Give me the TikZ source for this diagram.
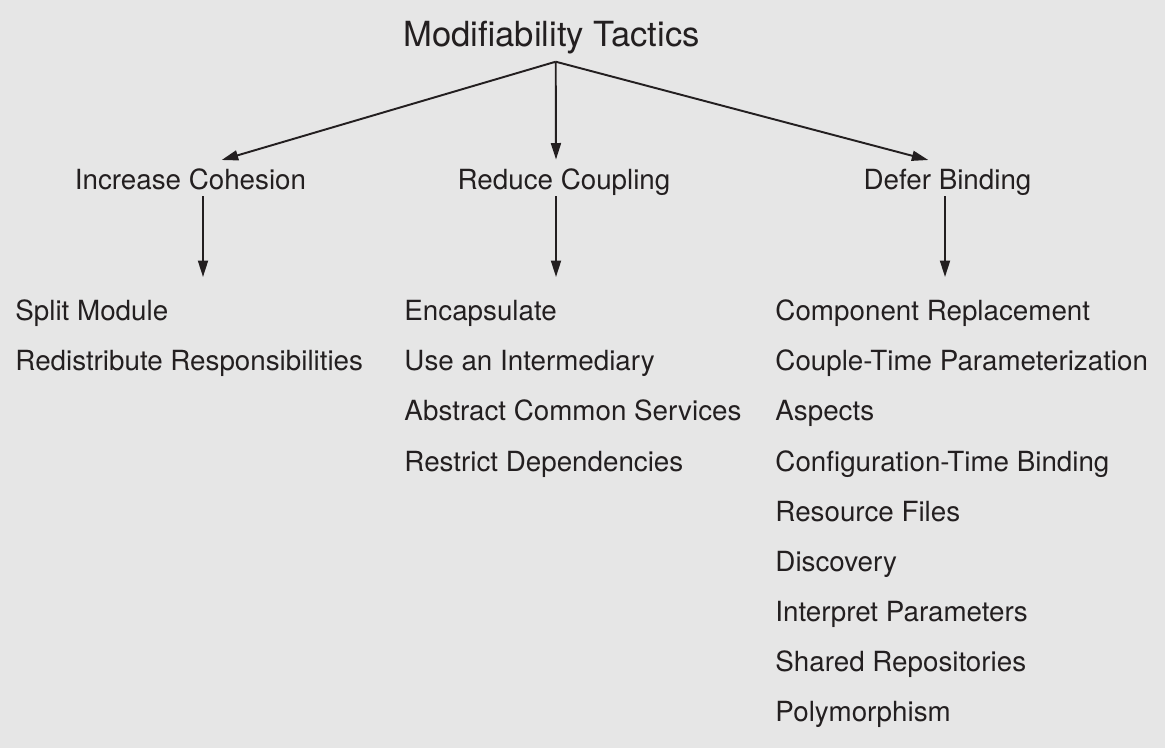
\documentclass[tikz,border=0pt]{standalone}
\usepackage{fontspec}
\setmainfont{TeX Gyre Heros}
\usetikzlibrary{arrows.meta}
\definecolor{bggray}{RGB}{230,230,230}
\definecolor{inkgray}{RGB}{35,31,32}
\tikzset{
  head/.style={anchor=base, inner sep=0pt, font=\fontsize{19.7}{23}\selectfont},
  branch/.style={anchor=base, inner sep=0pt, font=\fontsize{15.8}{18}\selectfont},
  tactic/.style={anchor=base west, inner sep=0pt, font=\fontsize{15.8}{18}\selectfont}
}

\begin{document}
\begin{tikzpicture}[x=0.02cm, y=-0.02cm, color=inkgray, line width=1.1pt,
  >={Triangle[length=0.33cm,width=0.2cm]}]
\fill[bggray] (0,0) rectangle (1165,748);
\useasboundingbox (0,0) rectangle (1165,748);

\node[head] (title) at (551.5,46) {Modifiability Tactics};
\node[branch] (cohesion) at (190.5,189.5) {Increase Cohesion};
\node[branch] (coupling) at (564,189.5) {Reduce Coupling};
\node[branch] (binding) at (947.5,189.5) {Defer Binding};

% increase cohesion
\node[tactic] (split) at (14.5,320.5) {Split Module};
\node[tactic] (redistribute) at (14.5,370.7) {Redistribute Responsibilities};

% reduce coupling
\node[tactic] (encapsulate) at (403.5,320.5) {Encapsulate};
\node[tactic] (intermediary) at (403.5,370.7) {Use an Intermediary};
\node[tactic] (abstract) at (403.5,420.8) {Abstract Common Services};
\node[tactic] (restrict) at (403.5,471) {Restrict Dependencies};

% defer binding
\node[tactic] (replacement) at (774.5,320.5) {Component Replacement};
\node[tactic] (parameterization) at (774.5,370.7) {Couple-Time Parameterization};
\node[tactic] (aspects) at (774.5,420.8) {Aspects};
\node[tactic] (configuration) at (774.5,471) {Configuration-Time Binding};
\node[tactic] (resource) at (774.5,521.1) {Resource Files};
\node[tactic] (discovery) at (774.5,571.3) {Discovery};
\node[tactic] (interpret) at (774.5,621.4) {Interpret Parameters};
\node[tactic] (repositories) at (774.5,671.6) {Shared Repositories};
\node[tactic] (polymorphism) at (774.5,721.7) {Polymorphism};

\coordinate (top) at (555.7,61.7);
\coordinate (cohesion in) at (221.7,160);
\coordinate (coupling in) at (556,159.5);
\coordinate (binding in) at (928.3,160);
\coordinate (cohesion out) at (203,196);
\coordinate (cohesion end) at (203,277);
\coordinate (coupling out) at (556,196);
\coordinate (coupling end) at (556,277);
\coordinate (binding out) at (945,196);
\coordinate (binding end) at (945,277);

\draw (top) edge[->] (cohesion in);
\draw (top) edge[->] (coupling in);
\draw (top) edge[->] (binding in);
\draw (cohesion out) edge[->] (cohesion end);
\draw (coupling out) edge[->] (coupling end);
\draw (binding out) edge[->] (binding end);
\end{tikzpicture}
\end{document}
